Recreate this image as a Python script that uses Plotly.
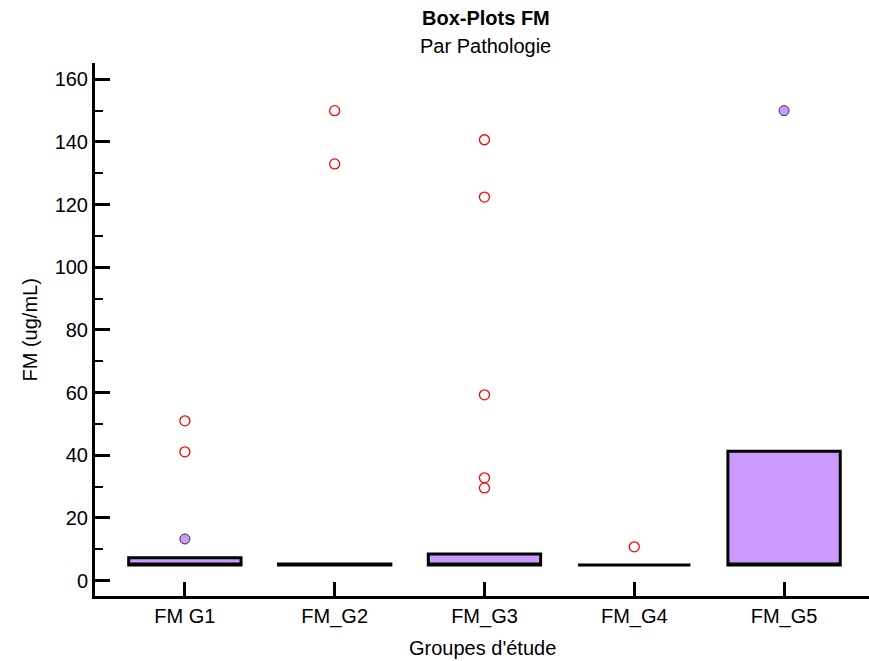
import plotly.graph_objects as go

groups = ["FM G1", "FM_G2", "FM_G3", "FM_G4", "FM_G5"]
q1 = [5.0, 5.0, 5.0, 5.0, 5.0]
median = [5.0, 5.0, 5.0, 5.0, 5.0]
q3 = [7.3, 5.3, 8.5, 5.0, 41.3]

# outside values (open red circles)
out_x = ["FM G1", "FM G1", "FM_G2", "FM_G2", "FM_G3", "FM_G3", "FM_G3", "FM_G3", "FM_G3", "FM_G4"]
out_y = [51.0, 41.1, 150.0, 133.0, 140.7, 122.4, 59.3, 32.8, 29.6, 10.8]

# near values (filled purple circles)
near_x = ["FM G1", "FM_G5"]
near_y = [13.3, 150.0]

yticks = [0, 20, 40, 60, 80, 100, 120, 140, 160]

FONT = "Liberation Sans, Arial, sans-serif"
PURPLE = "#cc99ff"
FS = 20

fig = go.Figure()
fig.add_trace(go.Box(
    x=groups, q1=q1, median=median, q3=q3,
    lowerfence=q1, upperfence=q3,
    fillcolor=PURPLE, line=dict(color="black", width=3),
    boxpoints=False, width=0.75, showlegend=False, hoverinfo="skip",
))
fig.add_trace(go.Scatter(
    x=out_x, y=out_y, mode="markers", showlegend=False,
    marker=dict(symbol="circle-open", size=10, color="#ff0000", line=dict(width=1.3)),
))
fig.add_trace(go.Scatter(
    x=near_x, y=near_y, mode="markers", showlegend=False,
    marker=dict(symbol="circle", size=10, color=PURPLE, line=dict(width=1, color="#333333")),
))

fig.update_layout(
    width=869, height=661,
    margin=dict(l=95, r=0, t=63, b=65),
    paper_bgcolor="white", plot_bgcolor="white",
    font=dict(family=FONT, size=FS, color="black"),
    xaxis=dict(
        type="category", categoryorder="array", categoryarray=groups,
        range=[-0.6, 4.567],
        showline=True, linecolor="black", linewidth=3,
        ticks="inside", ticklen=14, tickwidth=2.5, tickcolor="black",
        showgrid=False, zeroline=False,
        tickfont=dict(family=FONT, size=FS),
    ),
    yaxis=dict(
        range=[-4.9, 165.2],
        tickvals=yticks,
        showline=True, linecolor="black", linewidth=3,
        ticks="inside", ticklen=15, tickwidth=2.5, tickcolor="black",
        minor=dict(ticks="inside", ticklen=8, tickwidth=1.5, dtick=10, tick0=0, tickcolor="black"),
        showgrid=False, zeroline=False,
        tickfont=dict(family=FONT, size=FS),
    ),
    annotations=[
        dict(text="<b>Box-Plots FM</b>", xref="paper", yref="paper", x=0.505, y=1.0844,
             xanchor="center", yanchor="middle", showarrow=False, font=dict(size=FS)),
        dict(text="Par Pathologie", xref="paper", yref="paper", x=0.505, y=1.0319,
             xanchor="center", yanchor="middle", showarrow=False, font=dict(size=FS)),
        dict(text="FM (ug/mL)", xref="paper", yref="paper", x=-0.084, y=0.5,
             xanchor="center", yanchor="middle", textangle=-90, showarrow=False, font=dict(size=FS)),
        dict(text="Groupes d'étude", xref="paper", yref="paper", x=0.5, y=-0.0976,
             xanchor="center", yanchor="middle", showarrow=False, font=dict(size=FS)),
    ],
)

fig.write_html("out.html")
